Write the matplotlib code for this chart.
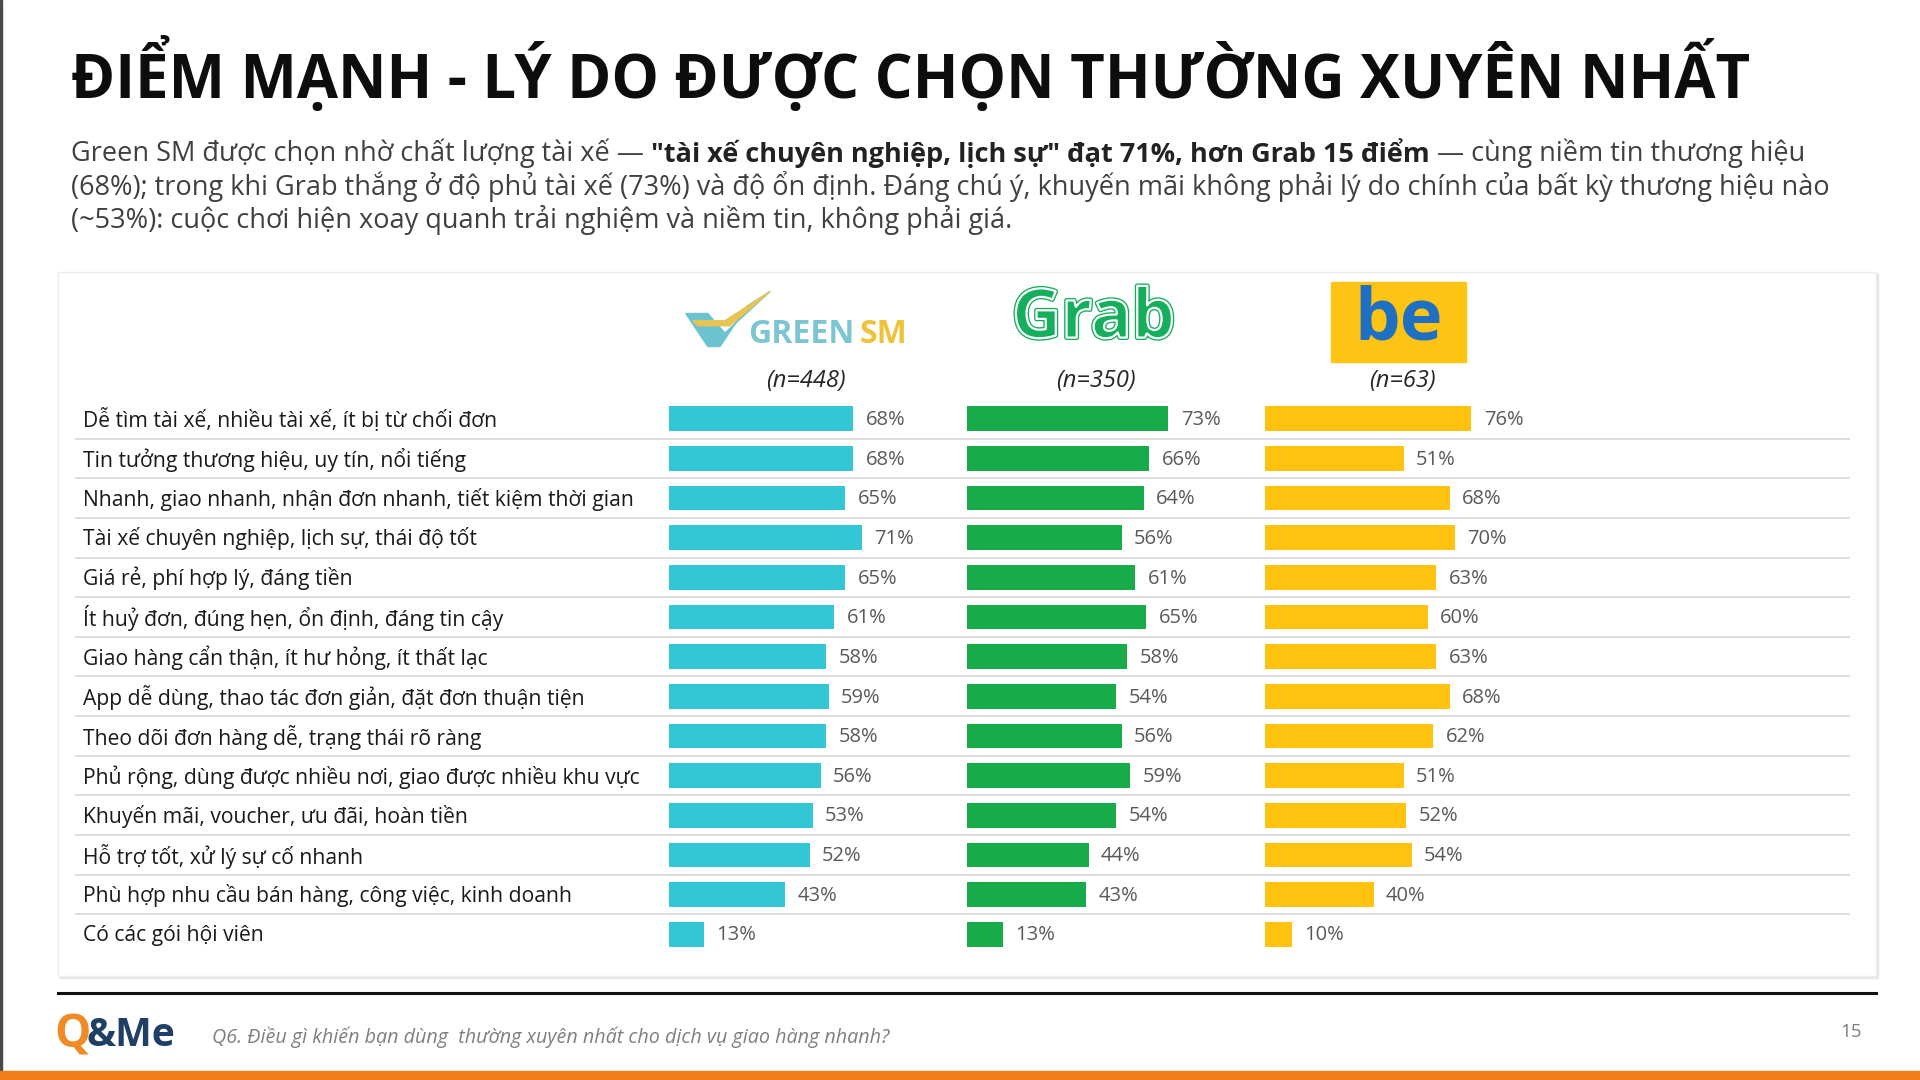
import matplotlib
matplotlib.use("Agg")
import matplotlib.pyplot as plt
import matplotlib.patches as mpatches
import matplotlib.patheffects as pe
import numpy as np

plt.rcParams['font.family'] = ['Open Sans', 'DejaVu Sans']

# du lieu
ly_do = [
    "Dễ tìm tài xế, nhiều tài xế, ít bị từ chối đơn",
    "Tin tưởng thương hiệu, uy tín, nổi tiếng",
    "Nhanh, giao nhanh, nhận đơn nhanh, tiết kiệm thời gian",
    "Tài xế chuyên nghiệp, lịch sự, thái độ tốt",
    "Giá rẻ, phí hợp lý, đáng tiền",
    "Ít huỷ đơn, đúng hẹn, ổn định, đáng tin cậy",
    "Giao hàng cẩn thận, ít hư hỏng, ít thất lạc",
    "App dễ dùng, thao tác đơn giản, đặt đơn thuận tiện",
    "Theo dõi đơn hàng dễ, trạng thái rõ ràng",
    "Phủ rộng, dùng được nhiều nơi, giao được nhiều khu vực",
    "Khuyến mãi, voucher, ưu đãi, hoàn tiền",
    "Hỗ trợ tốt, xử lý sự cố nhanh",
    "Phù hợp nhu cầu bán hàng, công việc, kinh doanh",
    "Có các gói hội viên",
]
green_sm = [68, 68, 65, 71, 65, 61, 58, 59, 58, 56, 53, 52, 43, 13]
grab = [73, 66, 64, 56, 61, 65, 58, 54, 56, 59, 54, 44, 43, 13]
be = [76, 51, 68, 70, 63, 60, 63, 68, 62, 51, 52, 54, 40, 10]
thuong_hieu = ["Green SM", "Grab", "be"]
so_mau = ["(n=448)", "(n=350)", "(n=63)"]

W, H = 1568, 882  # toa do tham chieu
fig = plt.figure(figsize=(19.2, 10.8), dpi=100)
fig.patch.set_facecolor("white")

bg = fig.add_axes([0, 0, 1, 1])
bg.set_xlim(0, W)
bg.set_ylim(H, 0)
bg.axis("off")
renderer = fig.canvas.get_renderer()


def khung(x0, y0, x1, y1):
    # doi toa do tham chieu sang phan so cua figure
    return [x0 / W, 1 - y1 / H, (x1 - x0) / W, (y1 - y0) / H]


def cuoi_chu(t):
    bb = t.get_window_extent(renderer)
    return bg.transData.inverted().transform((bb.x1, bb.y0))[0]


# vien trai va dai cam duoi
bg.add_patch(mpatches.Rectangle((0, 0), 2, H, color="#4a4a4a", zorder=1))
bg.add_patch(mpatches.Rectangle((0, 875), W, 7, color="#F07E1B", zorder=1))

# tieu de
bg.text(58, 61, "ĐIỂM MẠNH - LÝ DO ĐƯỢC CHỌN THƯỜNG XUYÊN NHẤT", fontsize=43,
        fontweight="bold", color="#0d0d0d", va="center", ha="left")

# doan mo ta, co phan in dam
dong = [
    [("Green SM được chọn nhờ chất lượng tài xế — ", "normal"),
     ("\"tài xế chuyên nghiệp, lịch sự\" đạt 71%, hơn Grab 15 điểm", "bold"),
     (" — cùng niềm tin thương hiệu", "normal")],
    [("(68%); trong khi Grab thắng ở độ phủ tài xế (73%) và độ ổn định. Đáng chú ý, khuyến mãi không phải lý do chính của bất kỳ thương hiệu nào", "normal")],
    [("(~53%): cuộc chơi hiện xoay quanh trải nghiệm và niềm tin, không phải giá.", "normal")],
]
for i, manh in enumerate(dong):
    x = 58
    y = 125 + i * 27.5
    for chu, w in manh:
        t = bg.text(x, y, chu, fontsize=19.5, fontweight=w,
                    color="#222222" if w == "bold" else "#404040",
                    va="center", ha="left")
        x = cuoi_chu(t)

# the trang co bong
bg.add_patch(mpatches.Rectangle((49, 224), 1485, 575, color="#e6e6e6", zorder=1))
bg.add_patch(mpatches.Rectangle((47, 222), 1485, 575, facecolor="white",
                                edgecolor="#ededed", lw=1, zorder=2))

# logo Green SM
bg.add_patch(mpatches.Polygon([[560, 256], [578, 256], [592, 272], [629, 238],
                               [610, 250], [598, 268], [588, 283], [578, 283]],
                              closed=True, color="#6cc3d0", zorder=3))
bg.add_patch(mpatches.Polygon([[566, 262], [592, 262], [629, 238], [596, 266],
                               [570, 266]], closed=True, color="#e9c453", zorder=4))
t = bg.text(611, 273, "GREEN", fontsize=23, fontweight="bold", color="#7cc6d3",
            va="center", ha="left", zorder=4)
bg.text(cuoi_chu(t) + 4, 273, "SM", fontsize=23, fontweight="bold", color="#efc238",
        va="center", ha="left", zorder=4)

# logo Grab
bg.text(893, 261, "Grab", fontsize=49, fontweight="bold", color="#14ae5c",
        va="center", ha="center", zorder=4,
        path_effects=[pe.Stroke(linewidth=3.5, foreground="#14ae5c"), pe.Normal()])
bg.text(893, 261, "Grab", fontsize=49, fontweight="bold", color="none",
        va="center", ha="center", zorder=5,
        path_effects=[pe.Stroke(linewidth=1.6, foreground="white")])

# logo be
bg.add_patch(mpatches.Rectangle((1087, 230), 110, 66, color="#fdc414", zorder=3))
bg.text(1142, 262, "be", fontsize=52, fontweight="bold", color="#1f6fc2",
        va="center", ha="center", zorder=4)

for x, n in zip([658, 895, 1145], so_mau):
    bg.text(x, 311, n, fontsize=17, fontstyle="italic", color="#262626",
            va="center", ha="center", zorder=4)

# duong ke giua cac dong
y_dau, buoc = 342, 32.38
for i in range(len(ly_do) - 1):
    yy = y_dau + buoc * (i + 0.5)
    bg.plot([62, 1510], [yy, yy], color="#d9d9d9", lw=1.3, zorder=3)

for i, nhan in enumerate(ly_do):
    bg.text(68, y_dau + buoc * i + 1, nhan, fontsize=15.2, color="#1a1a1a",
            va="center", ha="left", zorder=4)

# ba cot thanh ngang
mau = ["#33c6d4", "#17ab4a", "#ffc20f"]
bat_dau = [546, 790, 1033]
ty_le = [2.22, 2.25, 2.22]
y_tren = y_dau - buoc / 2
y_duoi = y_dau + buoc * (len(ly_do) - 0.5)
for gt, c, x0, s in zip([green_sm, grab, be], mau, bat_dau, ty_le):
    ax = fig.add_axes(khung(x0, y_tren, x0 + 100 * s, y_duoi))
    ax.set_xlim(0, 100)
    ax.set_ylim(len(ly_do) - 0.5, -0.5)
    ax.axis("off")
    ax.patch.set_alpha(0)
    pos = np.arange(len(gt))
    ax.barh(pos, gt, height=0.62, color=c, zorder=4)
    for p, v in zip(pos, gt):
        ax.text(v + 4.5, p + 0.03, f"{v}%", fontsize=14.5, color="#595959",
                va="center", ha="left", clip_on=False)

# chan trang
bg.plot([47, 1532], [811, 811], color="#111111", lw=2.2, zorder=3)
bg.text(44, 845, "Q", fontsize=33, fontweight="bold", color="#f08a24",
        va="center", ha="left")
bg.text(71, 846, "&Me", fontsize=28, fontweight="bold", color="#1f3f66",
        va="center", ha="left")
bg.text(173, 847, "Q6. Điều gì khiến bạn dùng  thường xuyên nhất cho dịch vụ giao hàng nhanh?",
        fontsize=14.2, fontstyle="italic", color="#7f7f7f", va="center", ha="left")
bg.text(1512, 843, "15", fontsize=13.5, color="#7f7f7f", va="center", ha="center")

fig.savefig("out.png", dpi=100, facecolor="white")
